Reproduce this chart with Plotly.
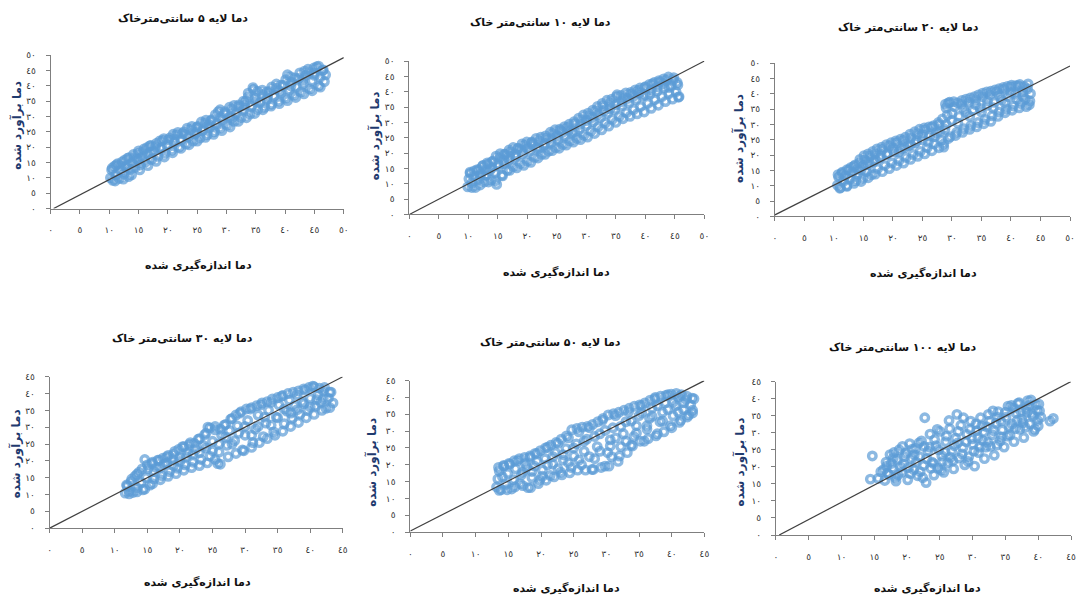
import plotly.graph_objects as go

W, H = 1076, 601

# ---------------- data ----------------
titles = ["دما لایه ۵ سانتی‌مترخاک", "دما لایه ۱۰ سانتی‌متر خاک", "دما لایه ۲۰ سانتی‌متر خاک",
          "دما لایه ۳۰ سانتی‌متر خاک", "دما لایه ۵۰ سانتی‌متر خاک", "دما لایه ۱۰۰ سانتی‌متر خاک"]
x_title = "دما اندازه‌گیری شده"
y_title = "دما برآورد شده"

ticks50 = [0, 5, 10, 15, 20, 25, 30, 35, 40, 45, 50]
ticks45 = [0, 5, 10, 15, 20, 25, 30, 35, 40, 45]
ticklabels = ["٠", "٥", "١٠", "١٥", "٢٠", "٢٥", "٣٠", "٣٥", "٤٠", "٤٥", "٥٠"]

# ---- layer 5 cm ----
x1 = [10.2, 10.4, 10.6, 10.9, 11.1, 11.4, 11.7, 11.9, 12.2, 12.5, 12.8, 13.1, 13.3, 13.6, 13.9, 14.1, 14.4, 14.7,
      15.0, 15.3, 15.6, 15.9, 16.2, 16.5, 16.9, 17.2, 17.6, 18.0, 18.3, 18.7, 19.1, 19.5, 19.9, 20.3, 20.7, 21.1,
      21.5, 21.9, 22.3, 22.7, 23.1, 23.5, 23.9, 24.3, 24.7, 25.1, 25.5, 25.9, 26.3, 26.7, 27.1, 27.5, 27.9, 28.3,
      28.6, 28.9, 29.3, 29.7, 30.1, 30.5, 30.9, 31.3, 31.7, 32.1, 32.5, 32.9, 33.3, 33.7, 34.0, 34.3, 34.6, 34.9,
      35.3, 35.7, 36.1, 36.5, 36.9, 37.3, 37.7, 38.1, 38.5, 38.9, 39.3, 39.7, 40.1, 40.4, 40.7, 41.1, 41.5, 41.9,
      42.3, 42.7, 43.1, 43.5, 43.9, 44.2, 44.6, 45.0, 45.4, 45.7, 46.0, 46.4, 46.7, 46.9]
y1 = [10.0, 12.6, 9.2, 13.8, 11.0, 14.6, 9.8, 12.4, 15.2, 11.2, 13.6, 16.4, 10.4, 12.8, 15.0, 17.6, 13.4, 16.2,
      18.8, 14.2, 16.8, 19.4, 15.2, 17.8, 20.4, 16.0, 18.6, 21.2, 17.0, 19.6, 22.2, 18.0, 20.6, 23.0, 19.0, 21.6,
      24.0, 20.0, 22.4, 25.0, 21.0, 23.4, 25.8, 22.0, 24.4, 26.8, 23.0, 25.4, 27.8, 24.0, 26.4, 29.0, 25.0, 27.6,
      31.6, 26.2, 28.8, 31.0, 27.2, 29.8, 32.4, 28.4, 31.0, 33.8, 29.6, 32.2, 35.0, 37.6, 30.8, 33.4, 38.8, 36.0,
      32.2, 34.6, 37.2, 33.0, 35.6, 38.2, 34.0, 36.6, 39.2, 35.0, 37.6, 40.2, 36.0, 43.6, 38.6, 41.2, 37.0, 39.6,
      42.4, 38.0, 40.6, 43.4, 45.4, 39.0, 41.6, 44.2, 46.2, 40.0, 42.8, 45.0, 41.4, 43.6]
x1b = [10.5, 11.2, 12.0, 12.6, 13.4, 14.2, 14.9, 15.7, 16.4, 17.1, 17.9, 18.6, 19.3, 20.1, 20.9, 21.7, 22.5, 23.3,
       24.1, 24.9, 25.7, 26.5, 27.3, 28.1, 28.9, 29.7, 30.5, 31.3, 32.1, 32.9, 33.7, 34.5, 35.3, 36.1, 36.9, 37.7,
       38.5, 39.3, 40.1, 40.9, 41.7, 42.5, 43.3, 44.1, 44.9, 45.7, 46.5,
       11.0, 12.4, 13.8, 15.2, 16.6, 18.0, 19.4, 20.8, 22.2, 23.6, 25.0, 26.4, 27.8, 29.2, 30.6, 32.0, 33.4, 34.8,
       36.2, 37.6, 39.0, 40.4, 41.8, 43.2, 44.6, 46.0,
       13.0, 15.0, 17.0, 19.0, 21.0, 23.0, 25.0, 27.0, 29.0, 31.0, 33.0, 35.0, 37.0, 39.0, 41.0, 43.0, 45.0]
y1b = [13.2, 14.2, 14.0, 15.8, 16.6, 16.4, 18.0, 18.4, 19.8, 20.6, 20.2, 22.0, 22.8, 22.4, 24.2, 24.8, 24.4, 26.2,
       26.8, 26.4, 28.2, 28.8, 28.6, 30.6, 32.2, 31.6, 33.0, 33.6, 33.2, 35.0, 36.4, 39.4, 38.2, 38.6, 38.0, 39.6,
       40.6, 40.2, 42.0, 43.0, 42.6, 44.2, 44.8, 44.4, 45.8, 46.4, 45.2,
       9.0, 9.6, 11.0, 12.6, 14.0, 15.4, 16.8, 18.2, 19.6, 20.8, 22.0, 23.2, 24.2, 25.4, 26.6, 28.4, 29.6, 31.0,
       32.2, 33.4, 34.2, 35.2, 36.2, 37.4, 38.4, 39.6,
       14.0, 15.8, 18.4, 19.8, 22.6, 24.0, 25.0, 27.4, 29.8, 29.6, 33.6, 34.8, 36.6, 38.4, 40.0, 41.8, 43.4]

# ---- layer 10 cm ----
x2 = [9.9, 10.1, 10.3, 10.6, 10.9, 11.2, 11.5, 11.8, 12.1, 12.4, 12.7, 13.0, 13.3, 13.6, 13.9, 14.2, 14.5, 14.8,
      15.1, 15.4, 15.7, 16.0, 16.3, 16.6, 16.9, 17.2, 17.6, 18.0, 18.4, 18.8, 19.2, 19.6, 20.0, 20.4, 20.8, 21.2,
      21.6, 22.0, 22.4, 22.8, 23.2, 23.6, 24.0, 24.4, 24.8, 25.2, 25.6, 26.0, 26.4, 26.8, 27.2, 27.6, 28.0, 28.4,
      28.8, 29.2, 29.6, 30.0, 30.4, 30.8, 31.2, 31.6, 32.0, 32.4, 32.8, 33.2, 33.6, 34.0, 34.4, 34.8, 35.2, 35.6,
      36.0, 36.4, 36.8, 37.2, 37.6, 38.0, 38.4, 38.8, 39.2, 39.6, 40.0, 40.4, 40.8, 41.2, 41.6, 42.0, 42.4, 42.8,
      43.2, 43.6, 44.0, 44.4, 44.8, 45.2, 45.5, 45.7]
y2 = [9.0, 11.6, 13.8, 10.2, 12.4, 8.8, 14.6, 11.4, 13.2, 15.8, 10.6, 12.8, 16.4, 14.2, 11.2, 17.4, 13.6, 9.8,
      15.8, 18.6, 12.8, 16.6, 19.6, 14.4, 17.8, 20.4, 15.6, 18.8, 21.4, 16.6, 19.8, 22.6, 17.4, 20.6, 23.6, 18.6,
      21.8, 24.0, 19.6, 22.6, 24.8, 20.6, 23.4, 26.4, 21.8, 24.4, 27.4, 22.8, 25.6, 28.4, 24.0, 26.6, 29.6, 24.8,
      27.8, 30.8, 25.8, 29.0, 32.0, 27.2, 30.2, 33.8, 28.6, 31.6, 35.4, 29.8, 33.0, 36.4, 31.0, 34.2, 39.0, 32.0,
      35.4, 38.0, 33.2, 36.4, 39.2, 34.2, 37.4, 40.4, 35.2, 38.6, 41.6, 36.2, 39.2, 42.6, 37.4, 40.2, 43.2, 38.4,
      41.2, 43.8, 39.4, 42.0, 44.6, 40.0, 42.2, 38.4]
x2b = [10.3, 11.0, 11.8, 12.5, 13.2, 14.0, 14.7, 15.4, 16.1, 16.9, 17.6, 18.4, 19.1, 19.9, 20.7, 21.5, 22.3, 23.1,
       23.9, 24.7, 25.5, 26.3, 27.1, 27.9, 28.7, 29.5, 30.3, 31.1, 31.9, 32.7, 33.5, 34.3, 35.1, 35.9, 36.7, 37.5,
       38.3, 39.1, 39.9, 40.7, 41.5, 42.3, 43.1, 43.9, 44.7, 45.4,
       10.6, 12.0, 13.4, 14.6, 15.8, 17.0, 18.2, 19.4, 20.6, 21.8, 23.0, 24.2, 25.4, 26.6, 27.8, 29.0, 30.2, 31.4,
       32.6, 33.8, 35.0, 36.2, 37.4, 38.6, 39.8, 41.0, 42.2, 43.4, 44.6, 45.6,
       12.0, 13.0, 14.0, 15.0, 16.0, 17.0, 18.0, 19.0, 20.0, 21.0, 22.0, 23.0, 24.0, 25.0, 26.0, 27.0, 28.0, 29.0,
       30.0, 31.0, 32.0, 33.0, 34.0, 35.0, 36.0, 37.0, 38.0, 39.0, 40.0, 41.0, 42.0, 43.0, 44.0]
y2b = [13.4, 14.2, 14.6, 16.0, 16.8, 17.2, 19.0, 19.8, 19.6, 21.0, 21.8, 21.6, 23.0, 23.6, 23.4, 24.8, 25.2, 25.6,
       26.8, 27.6, 27.8, 28.6, 29.4, 30.2, 31.4, 32.4, 33.0, 34.0, 35.2, 36.2, 37.2, 37.6, 38.4, 38.8, 39.6, 39.8,
       40.6, 41.2, 41.4, 42.4, 43.0, 43.6, 44.2, 44.8, 43.8, 43.0,
       8.8, 9.6, 10.6, 11.0, 12.6, 14.4, 15.2, 16.0, 17.0, 18.4, 19.6, 20.8, 21.6, 22.6, 23.6, 24.4, 25.2, 26.4,
       27.6, 28.8, 30.0, 31.2, 32.0, 32.8, 33.4, 34.6, 35.6, 36.8, 37.6, 38.2,
       12.6, 14.6, 15.2, 16.4, 17.8, 19.0, 19.6, 21.0, 21.6, 22.6, 21.6, 23.0, 24.8, 25.6, 26.8, 27.4, 27.0, 29.4,
       30.6, 31.6, 32.6, 33.8, 34.4, 35.8, 36.8, 37.8, 38.6, 39.6, 39.0, 40.6, 41.6, 42.6, 41.4]

# ---- layer 20 cm ----
x3 = [10.6, 10.8, 11.1, 11.3, 11.6, 11.9, 12.2, 12.5, 12.8, 13.1, 13.4, 13.7, 14.0, 14.3, 14.6, 14.9, 15.2, 15.5,
      15.8, 16.1, 16.4, 16.7, 17.0, 17.4, 17.8, 18.2, 18.6, 19.0, 19.4, 19.8, 20.2, 20.6, 21.0, 21.4, 21.8, 22.2,
      22.6, 23.0, 23.4, 23.8, 24.2, 24.6, 25.0, 25.4, 25.8, 26.2, 26.6, 27.0, 27.4, 27.8, 28.2, 28.6, 28.8, 29.0,
      29.2, 29.4, 29.7, 30.0, 30.4, 30.8, 31.2, 31.6, 32.0, 32.4, 32.8, 33.2, 33.6, 34.0, 34.4, 34.8, 35.2, 35.6,
      36.0, 36.4, 36.8, 37.2, 37.6, 38.0, 38.4, 38.8, 39.2, 39.6, 40.0, 40.4, 40.8, 41.2, 41.6, 42.0, 42.4, 42.8,
      43.1, 43.3]
y3 = [10.2, 12.8, 9.4, 14.0, 11.4, 13.2, 10.0, 15.2, 12.2, 14.4, 16.4, 11.6, 13.8, 17.4, 15.2, 12.4, 18.4, 14.6,
      16.8, 19.6, 13.6, 17.8, 20.4, 15.6, 19.0, 21.8, 16.6, 20.2, 23.0, 17.4, 21.0, 24.0, 18.2, 22.0, 24.8, 19.2,
      23.0, 25.6, 20.2, 24.0, 27.0, 21.2, 25.0, 28.2, 22.4, 26.2, 29.2, 23.6, 27.2, 30.0, 24.8, 22.6, 28.4, 35.4,
      33.0, 37.0, 26.0, 31.2, 35.8, 27.4, 32.6, 36.6, 28.6, 33.8, 37.2, 29.6, 34.6, 38.0, 30.6, 35.2, 39.0, 31.6,
      36.2, 39.6, 32.8, 37.2, 40.6, 34.0, 38.0, 41.4, 35.0, 39.0, 42.2, 36.0, 39.8, 42.6, 36.8, 40.6, 38.2, 41.6,
      36.4, 40.0]
x3b = [10.7, 11.4, 12.2, 12.9, 13.6, 14.4, 15.1, 15.8, 16.6, 17.3, 18.1, 18.9, 19.7, 20.5, 21.3, 22.1, 22.9, 23.7,
       24.5, 25.3, 26.1, 26.9, 27.7, 28.4, 28.9, 29.6, 30.3, 31.0, 31.7, 32.4, 33.1, 33.8, 34.5, 35.2, 35.9, 36.6,
       37.3, 38.0, 38.7, 39.4, 40.1, 40.8, 41.5, 42.2, 42.9,
       11.0, 12.2, 13.4, 14.6, 15.8, 17.0, 18.2, 19.4, 20.6, 21.8, 23.0, 24.2, 25.4, 26.6, 27.8, 28.6, 29.4, 30.6,
       31.8, 33.0, 34.2, 35.4, 36.6, 37.8, 39.0, 40.2, 41.4, 42.6, 43.2,
       14.0, 15.0, 16.0, 17.0, 18.0, 19.0, 20.0, 21.0, 22.0, 23.0, 24.0, 25.0, 26.0, 27.0, 28.0, 29.0, 30.0, 31.0,
       32.0, 33.0, 34.0, 35.0, 36.0, 37.0, 38.0, 39.0, 40.0, 41.0, 42.0]
y3b = [13.6, 14.4, 15.2, 16.0, 16.8, 18.6, 19.8, 20.4, 21.2, 22.0, 22.6, 23.4, 24.0, 24.6, 25.2, 25.8, 26.8, 27.6,
       28.4, 28.8, 29.2, 29.6, 30.6, 31.8, 36.6, 37.2, 37.4, 37.0, 37.8, 38.2, 38.6, 39.0, 39.6, 40.2, 40.6, 40.8,
       41.2, 41.6, 42.0, 42.4, 42.8, 42.6, 43.0, 42.4, 43.2,
       9.2, 9.8, 10.8, 11.4, 12.6, 13.8, 14.6, 15.6, 16.6, 17.4, 18.6, 19.6, 20.4, 21.4, 22.4, 23.6, 25.4, 26.4,
       27.4, 28.4, 29.2, 30.2, 31.0, 32.6, 33.8, 34.6, 35.4, 35.8, 37.6,
       15.4, 16.6, 17.6, 18.4, 19.8, 20.4, 22.2, 21.0, 22.4, 23.4, 24.6, 26.6, 24.2, 26.0, 27.6, 30.0, 33.6, 30.4,
       35.0, 32.6, 36.4, 34.0, 37.6, 35.4, 39.4, 37.0, 40.2, 38.2, 39.2]

# ---- layer 30 cm ----
x4 = [11.6, 11.9, 12.2, 12.5, 12.8, 13.1, 13.4, 13.7, 14.0, 14.3, 14.6, 14.8, 15.1, 15.4, 15.7, 16.0, 16.4, 16.8,
      17.2, 17.6, 18.0, 18.4, 18.8, 19.2, 19.6, 20.0, 20.4, 20.8, 21.2, 21.6, 22.0, 22.4, 22.8, 23.2, 23.6, 24.0,
      24.3, 24.6, 25.0, 25.4, 25.8, 26.0, 26.4, 26.8, 27.2, 27.6, 28.0, 28.4, 28.8, 29.2, 29.6, 30.0, 30.4, 30.8,
      31.2, 31.6, 32.0, 32.4, 32.8, 33.2, 33.6, 34.0, 34.4, 34.8, 35.2, 35.6, 36.0, 36.4, 36.8, 37.2, 37.6, 38.0,
      38.4, 38.8, 39.2, 39.6, 40.0, 40.4, 40.8, 41.2, 41.6, 42.0, 42.4, 42.8, 43.2, 43.5]
y4 = [10.4, 12.6, 11.0, 13.8, 10.6, 15.4, 12.0, 16.6, 13.6, 11.4, 20.4, 15.0, 17.6, 12.8, 19.2, 14.6, 18.0, 20.2,
      15.6, 19.0, 21.2, 16.8, 20.4, 22.8, 17.8, 21.0, 24.2, 18.8, 22.4, 25.4, 19.6, 23.4, 26.4, 20.4, 24.6, 28.2,
      30.0, 21.4, 25.8, 29.2, 19.2, 22.6, 27.6, 30.6, 24.6, 29.0, 32.6, 26.0, 30.4, 34.2, 23.2, 27.6, 32.0, 35.4,
      25.4, 29.4, 33.6, 36.6, 27.2, 31.2, 35.0, 37.4, 28.6, 33.0, 36.6, 39.2, 31.0, 34.8, 38.0, 32.6, 36.4, 39.6,
      33.8, 37.6, 41.0, 35.0, 38.6, 42.2, 36.2, 39.6, 37.4, 40.8, 35.6, 38.6, 40.4, 37.2]
x4b = [11.8, 12.6, 13.4, 14.2, 15.0, 15.8, 16.6, 17.4, 18.2, 19.0, 19.8, 20.6, 21.4, 22.2, 23.0, 23.8, 24.6, 25.4,
       26.2, 27.0, 27.8, 28.6, 29.4, 30.2, 31.0, 31.8, 32.6, 33.4, 34.2, 35.0, 35.8, 36.6, 37.4, 38.2, 39.0, 39.8,
       40.6, 41.4, 42.2, 43.0,
       12.2, 13.4, 14.6, 15.8, 17.0, 18.2, 19.4, 20.6, 21.8, 23.0, 24.2, 25.4, 26.2, 27.4, 28.6, 29.8, 31.0, 32.2,
       33.4, 34.6, 35.8, 37.0, 38.2, 39.4, 40.6, 41.8, 43.0,
       16.0, 17.0, 18.0, 19.0, 20.0, 21.0, 22.0, 23.0, 24.0, 25.0, 26.0, 27.0, 28.0, 29.0, 30.0, 31.0, 32.0, 33.0,
       34.0, 35.0, 36.0, 37.0, 38.0, 39.0, 40.0, 41.0, 42.0]
y4b = [12.8, 14.6, 16.0, 17.6, 18.8, 19.6, 20.2, 20.8, 21.6, 22.0, 23.4, 24.2, 24.8, 25.2, 26.6, 27.8, 29.8, 30.2,
       29.4, 30.8, 32.4, 33.6, 34.6, 35.4, 35.8, 36.4, 37.2, 37.6, 38.4, 38.8, 39.4, 40.0, 40.4, 40.8, 41.4, 41.8,
       42.0, 41.6, 41.8, 40.4,
       10.2, 10.8, 11.6, 13.2, 14.4, 15.4, 16.2, 17.2, 18.0, 18.6, 19.4, 20.4, 19.0, 21.2, 22.2, 23.0, 24.0, 25.4,
       26.6, 27.6, 28.8, 30.2, 31.4, 32.8, 33.8, 35.0, 35.8,
       16.8, 18.0, 19.4, 18.6, 19.8, 21.2, 22.0, 22.4, 23.8, 23.0, 25.0, 27.0, 25.0, 28.2, 30.2, 27.6, 30.2, 33.0,
       30.6, 32.8, 35.4, 34.2, 35.2, 37.0, 36.0, 38.2, 38.4]

# ---- layer 50 cm ----
x5 = [13.2, 13.4, 13.6, 13.9, 14.1, 14.3, 14.6, 14.9, 15.2, 15.5, 15.8, 16.1, 16.4, 16.8, 17.2, 17.6, 18.0, 18.3,
      18.6, 19.0, 19.4, 19.8, 20.2, 20.6, 21.0, 21.4, 21.8, 22.2, 22.6, 23.0, 23.4, 23.8, 24.2, 24.6, 25.0, 25.4,
      25.8, 26.2, 26.6, 27.0, 27.4, 27.8, 28.2, 28.6, 29.0, 29.4, 29.8, 30.2, 30.6, 31.0, 31.4, 31.8, 32.2, 32.6,
      33.0, 33.4, 33.8, 34.2, 34.6, 35.0, 35.4, 35.8, 36.2, 36.6, 37.0, 37.4, 37.8, 38.2, 38.6, 39.0, 39.4, 39.8,
      40.2, 40.6, 41.0, 41.4, 41.8, 42.2, 42.6, 42.9, 43.2, 43.4]
y5 = [13.4, 15.8, 18.2, 12.6, 16.4, 19.6, 14.2, 17.4, 20.2, 12.8, 15.6, 18.8, 21.2, 14.4, 17.8, 20.4, 13.2, 22.2,
      16.2, 19.6, 23.4, 15.4, 18.4, 21.8, 25.2, 16.8, 20.2, 23.6, 26.4, 17.8, 21.4, 24.8, 28.0, 19.2, 22.6, 26.2,
      29.8, 20.0, 24.0, 27.6, 31.0, 18.6, 21.8, 25.4, 29.2, 33.2, 19.6, 23.6, 27.4, 31.0, 34.6, 21.0, 25.4, 29.2,
      32.8, 35.8, 25.8, 28.4, 31.6, 34.6, 37.6, 27.0, 30.6, 33.8, 36.8, 39.6, 29.2, 32.8, 35.6, 38.4, 40.8, 31.6,
      34.6, 37.6, 40.2, 33.2, 36.4, 39.4, 34.8, 37.8, 36.2, 39.6]
x5b = [13.5, 14.3, 15.1, 15.9, 16.7, 17.5, 18.3, 19.1, 19.9, 20.7, 21.5, 22.3, 23.1, 23.9, 24.7, 25.5, 26.3, 27.1,
       27.9, 28.7, 29.5, 30.3, 31.1, 31.9, 32.7, 33.5, 34.3, 35.1, 35.9, 36.7, 37.5, 38.3, 39.1, 39.9, 40.7, 41.5,
       42.3, 43.1,
       13.6, 14.8, 16.0, 17.2, 18.4, 19.6, 20.8, 22.0, 23.2, 24.4, 25.6, 26.8, 28.0, 29.2, 30.4, 30.8, 32.0, 33.2,
       34.0, 35.2, 36.4, 37.6, 38.8, 40.0, 41.2, 42.4, 43.2,
       17.0, 17.8, 18.6, 19.4, 20.2, 21.0, 21.8, 22.6, 23.4, 24.2, 25.0, 25.8, 26.6, 27.4, 28.2, 29.0, 29.8, 30.6,
       31.4, 32.2, 33.0, 33.8, 34.6, 35.4, 36.2, 37.0, 37.8, 38.6, 39.4, 40.2, 41.0, 41.8]
y5b = [19.2, 19.8, 20.4, 21.2, 21.8, 22.2, 22.6, 23.4, 24.2, 25.0, 25.8, 26.6, 27.6, 28.6, 30.4, 30.8, 31.2, 31.4,
       32.0, 32.8, 33.8, 34.8, 35.2, 35.6, 36.2, 36.8, 37.4, 37.8, 38.4, 39.2, 40.0, 40.4, 40.6, 41.0, 41.2, 40.8,
       40.4, 39.8,
       12.4, 12.6, 13.4, 13.8, 13.2, 14.4, 15.4, 16.4, 17.0, 17.6, 18.4, 18.4, 18.6, 19.2, 19.6, 22.4, 22.6, 23.6,
       25.6, 27.0, 27.8, 28.6, 29.8, 31.0, 32.6, 34.2, 35.4,
       17.0, 19.2, 18.0, 21.0, 16.6, 20.0, 22.4, 18.8, 23.0, 20.6, 25.0, 21.4, 27.0, 22.4, 28.4, 24.0, 30.2, 25.6,
       28.0, 31.4, 27.0, 33.0, 29.4, 35.4, 31.6, 34.4, 37.6, 33.0, 36.4, 38.6, 35.6, 38.4]

# ---- layer 100 cm ----
x6 = [14.4, 14.7, 15.6, 16.4, 16.6, 16.8, 17.2, 17.4, 17.8, 18.2, 18.5, 18.8, 19.2, 19.5, 19.8, 20.1, 20.4, 20.7,
      21.0, 21.3, 21.6, 21.9, 22.2, 22.5, 22.7, 22.9, 23.2, 23.5, 23.8, 24.1, 24.4, 24.7, 25.0, 25.3, 25.6, 25.9,
      26.2, 26.5, 26.8, 27.1, 27.4, 27.6, 27.9, 28.2, 28.5, 28.8, 29.1, 29.4, 29.7, 30.0, 30.3, 30.6, 30.9, 31.2,
      31.5, 31.8, 32.1, 32.4, 32.7, 33.0, 33.3, 33.6, 33.9, 34.2, 34.5, 34.8, 35.1, 35.4, 35.7, 36.0, 36.3, 36.6,
      36.9, 37.2, 37.5, 37.8, 38.1, 38.4, 38.7, 39.0, 39.3, 39.6, 39.9, 40.2, 41.8, 42.3]
y6 = [16.4, 23.2, 16.6, 19.2, 16.0, 21.4, 17.8, 23.6, 19.6, 16.8, 22.2, 25.0, 18.4, 20.8, 24.0, 16.2, 26.8, 22.4,
      19.2, 25.4, 17.4, 23.0, 27.6, 20.4, 34.4, 15.4, 24.6, 29.6, 21.4, 17.6, 26.2, 19.6, 30.4, 23.2, 18.4, 27.4,
      21.2, 31.2, 24.6, 19.4, 28.4, 35.4, 22.6, 32.2, 25.6, 20.6, 29.6, 23.0, 33.4, 26.6, 20.2, 30.6, 24.2, 34.4,
      27.8, 22.4, 31.8, 35.4, 26.0, 29.4, 23.4, 32.8, 36.2, 27.6, 30.8, 25.8, 34.6, 37.8, 29.4, 32.6, 27.4, 35.8,
      38.6, 31.0, 34.0, 28.6, 37.0, 39.4, 32.6, 35.6, 30.4, 38.2, 33.6, 36.4, 33.4, 34.2]
x6b = [17.0, 17.6, 18.0, 18.6, 19.0, 19.6, 20.2, 20.8, 21.4, 22.0, 22.6, 23.0, 23.6, 24.2, 24.8, 25.4, 26.0, 26.6,
       27.2, 27.8, 28.4, 29.0, 29.6, 30.2, 30.8, 31.4, 32.0, 32.6, 33.2, 33.8, 34.4, 35.0, 35.6, 36.2, 36.8, 37.4,
       38.0, 38.6, 39.2, 39.8, 40.0,
       16.0, 16.9, 17.9, 18.3, 19.3, 20.5, 21.1, 21.8, 22.4, 23.4, 24.0, 24.6, 25.2, 25.8, 26.4, 27.0, 27.7, 28.6,
       29.3, 29.9, 30.5, 31.1, 31.7, 32.3, 33.1, 33.7, 34.3, 35.3, 35.9, 36.5, 37.1, 37.7, 38.3, 38.9, 39.5, 40.1,
       40.4]
y6b = [18.2, 21.0, 24.2, 17.6, 20.0, 23.0, 19.8, 25.2, 21.4, 18.6, 26.0, 22.4, 19.6, 28.0, 25.0, 21.6, 29.0, 22.8,
       26.2, 30.4, 23.8, 27.4, 31.0, 24.6, 28.6, 32.0, 25.8, 33.4, 30.6, 34.6, 28.8, 36.0, 31.8, 37.2, 33.6, 36.2,
       31.6, 38.0, 34.8, 36.6, 32.0,
       18.6, 20.2, 22.6, 15.8, 26.0, 18.0, 23.6, 27.0, 16.8, 25.8, 21.0, 31.0, 19.0, 24.4, 33.6, 21.8, 27.0, 34.4,
       21.6, 28.2, 32.6, 25.8, 30.2, 27.2, 36.4, 26.4, 33.4, 29.0, 38.0, 31.2, 38.8, 33.0, 36.0, 39.6, 31.0, 38.4,
       34.6]

# 1:1 reference lines (start / end points)
line_x = [[0.5, 50], [0, 50], [0, 50], [0, 45], [0, 45], [0.5, 45]]
line_y = [[0, 49.2], [0, 50], [0.5, 49], [0, 45], [0.3, 45], [0, 45]]

xs = [x1 + x1b, x2 + x2b, x3 + x3b, x4 + x4b, x5 + x5b, x6 + x6b]
ys = [y1 + y1b, y2 + y2b, y3 + y3b, y4 + y4b, y5 + y5b, y6 + y6b]
maxes = [50, 50, 50, 45, 45, 45]

# ---------------- layout geometry (pixels) ----------------
boxes = [(49, 344, 51, 207), (410, 707, 57, 213), (778, 1075, 59, 215),
         (48, 343, 378, 532), (411, 707, 382, 536), (779, 1076, 383, 539)]
title_pos = [(182, 14), (542, 18), (912, 23), (182, 339), (552, 343), (907, 348)]
xt_pos = [(198, 265), (558, 272), (928, 273), (197, 587), (568, 593), (932, 593)]
yt_pos = [(15, 122), (375, 133), (742, 136), (15, 456), (373, 465), (743, 465)]

FONT = "DejaVu Sans"
BLUE = "rgba(91,155,213,0.7)"

fig = go.Figure()
layout = dict(width=W, height=H, margin=dict(l=0, r=0, t=0, b=0),
              paper_bgcolor="white", plot_bgcolor="white", showlegend=False,
              font=dict(family=FONT))
annotations = []


def px(v):
    return v / W


def py(v):
    return 1 - v / H


for i in range(6):
    k = "" if i == 0 else str(i + 1)
    l, r, t, b = boxes[i]
    m = maxes[i]
    tv = ticks50 if m == 50 else ticks45
    tt = ticklabels[:len(tv)]
    common = dict(range=[0, m], tickvals=tv, ticktext=tt, showgrid=False, zeroline=False,
                  showline=True, linecolor="#7f7f7f", linewidth=1, ticks="outside",
                  ticklen=4, tickcolor="#7f7f7f", tickfont=dict(family=FONT, size=9, color="#333333"),
                  fixedrange=True)
    layout["xaxis" + k] = dict(domain=[px(l), px(r)], anchor="y" + k, ticklabelstandoff=9, **common)
    layout["yaxis" + k] = dict(domain=[py(b), py(t)], anchor="x" + k, ticklabelstandoff=8, **common)

    fig.add_trace(go.Scatter(x=xs[i], y=ys[i], mode="markers", xaxis="x" + k, yaxis="y" + k,
                             marker=dict(symbol="circle-open", size=7.5, color=BLUE, line=dict(width=3.4)),
                             cliponaxis=False))
    fig.add_trace(go.Scatter(x=line_x[i], y=line_y[i], mode="lines", xaxis="x" + k, yaxis="y" + k,
                             line=dict(color="#404040", width=1.2), cliponaxis=False))

    annotations.append(dict(x=px(title_pos[i][0]), y=py(title_pos[i][1]), xref="paper", yref="paper",
                            text="<b>" + titles[i] + "</b>", showarrow=False, xanchor="center", yanchor="middle",
                            font=dict(family=FONT, size=11, color="#111111")))
    annotations.append(dict(x=px(xt_pos[i][0]), y=py(xt_pos[i][1]), xref="paper", yref="paper",
                            text="<b>" + x_title + "</b>", showarrow=False, xanchor="center", yanchor="middle",
                            font=dict(family=FONT, size=11, color="#111111")))
    annotations.append(dict(x=px(yt_pos[i][0]), y=py(yt_pos[i][1]), xref="paper", yref="paper",
                            text="<b>" + y_title + "</b>", showarrow=False, xanchor="center", yanchor="middle",
                            textangle=-90, font=dict(family=FONT, size=12, color="#1f3a6e")))

layout["annotations"] = annotations
fig.update_layout(**layout)
fig.write_html("out.html", config={"displayModeBar": False},
               post_script="document.body.style.margin='0';")
